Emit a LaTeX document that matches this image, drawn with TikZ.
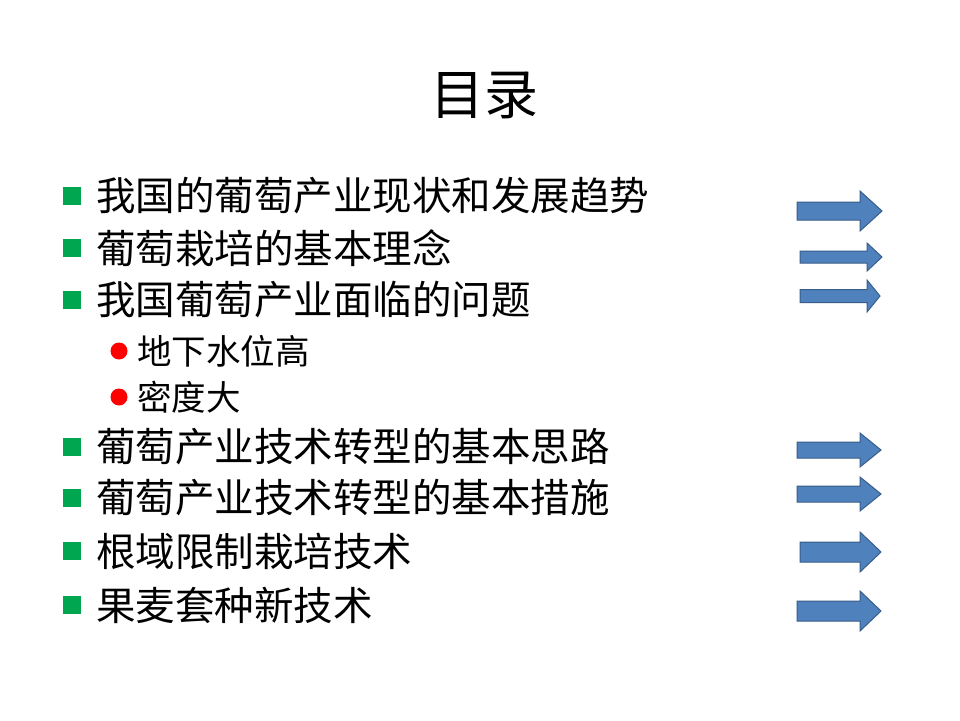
\documentclass[tikz,border=0pt]{standalone}
\usepackage{fontspec}
\newfontfamily\cjk{Noto Sans CJK SC}
\definecolor{arrfill}{HTML}{4F81BD}
\definecolor{arrline}{HTML}{385D8A}
\definecolor{bgreen}{HTML}{00A650}
\tikzset{
 item/.style={anchor=west,font=\cjk\fontsize{39.5}{40}\selectfont,inner sep=0pt},
 sub/.style={anchor=west,font=\cjk\fontsize{34.5}{35}\selectfont,inner sep=0pt},
 arr/.style={fill=arrfill,draw=arrline,line width=1pt,line join=miter}
}
% #1 left x, #2 head start x, #3 tip x, #4 center y, #5 body half h, #6 head half h
\newcommand{\blockarrow}[6]{\path[arr] (#1,#4-#5) -- (#2,#4-#5) -- (#2,#4-#6) -- (#3,#4) -- (#2,#4+#6) -- (#2,#4+#5) -- (#1,#4+#5) -- cycle;}
\newcommand{\gsq}[1]{\fill[bgreen] (63,#1-9) rectangle (81,#1+9);}
\newcommand{\rdot}[1]{\fill[red] (119,#1) circle (8.5);}
\begin{document}
\begin{tikzpicture}[x=1pt,y=-1pt]
\useasboundingbox (0,0) rectangle (960,720);
\fill[white] (0,0) rectangle (960,720);
\node[font=\cjk\fontsize{54}{54}\selectfont,inner sep=0pt] (title) at (484,95) {目录};
\gsq{196}\node[item] (i1) at (96,196) {我国的葡萄产业现状和发展趋势};
\gsq{248}\node[item] (i2) at (96,248) {葡萄栽培的基本理念};
\gsq{300}\node[item] (i3) at (96,300) {我国葡萄产业面临的问题};
\rdot{351}\node[sub] (s1) at (137,351) {地下水位高};
\rdot{397}\node[sub] (s2) at (137,397) {密度大};
\gsq{447}\node[item] (i4) at (96,447) {葡萄产业技术转型的基本思路};
\gsq{498}\node[item] (i5) at (96,498) {葡萄产业技术转型的基本措施};
\gsq{551}\node[item] (i6) at (96,551) {根域限制栽培技术};
\gsq{605}\node[item] (i7) at (96,605) {果麦套种新技术};
\blockarrow{797}{860}{882}{211}{9}{20}
\blockarrow{800}{867}{882}{257}{6}{14}
\blockarrow{800}{867}{880}{296}{6.5}{16}
\blockarrow{797}{860}{881}{450}{8}{17}
\blockarrow{797}{860}{881}{494}{8}{17}
\blockarrow{800}{860}{881}{552}{10}{20}
\blockarrow{797}{860}{881}{611}{10}{20}
\end{tikzpicture}
\end{document}
